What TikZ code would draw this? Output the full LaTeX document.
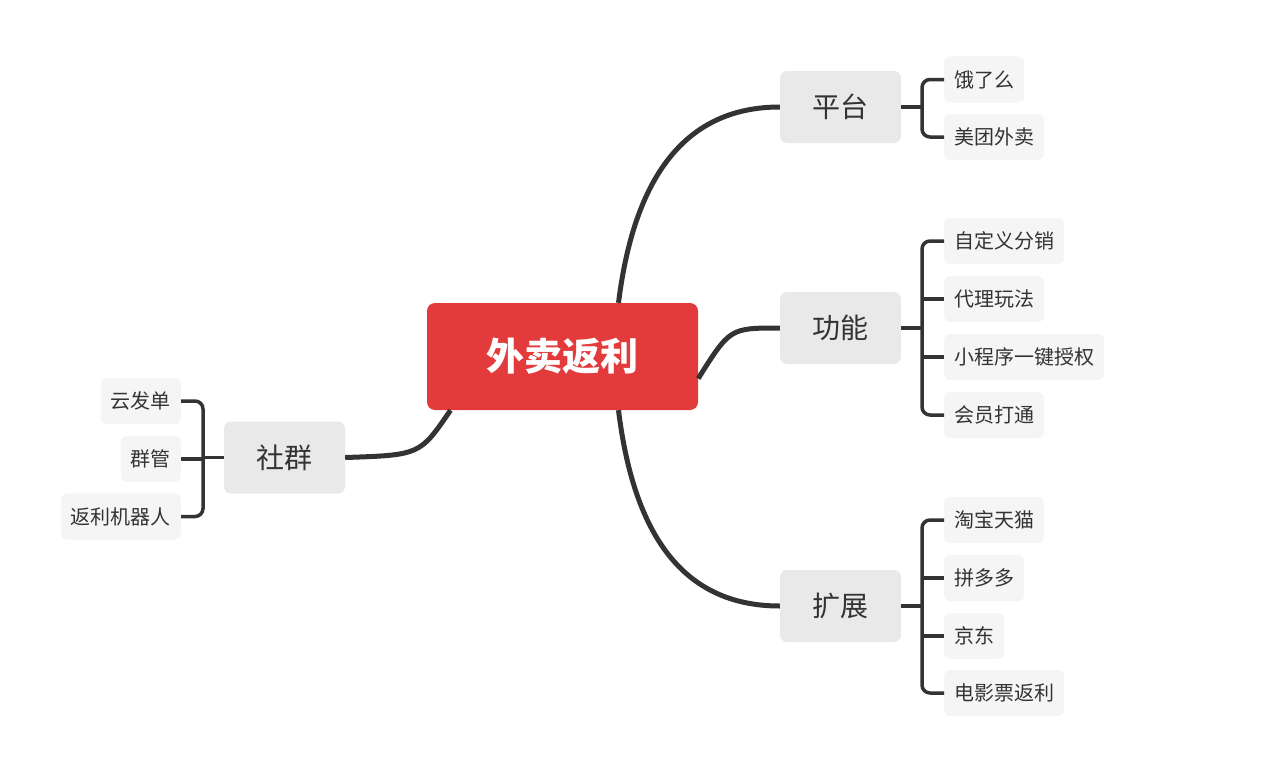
\documentclass[tikz,border=0pt]{standalone}
\usepackage{fontspec}
\setmainfont{Noto Sans CJK SC}
\definecolor{mainred}{HTML}{E33B3B}
\definecolor{topicgray}{HTML}{E9E9E9}
\definecolor{leafgray}{HTML}{F5F5F5}
\definecolor{linegray}{HTML}{333333}
\tikzset{
  rootbox/.style={fill=mainred, rounded corners=8pt, text=white, minimum width=271pt, minimum height=107pt, font=\fontsize{38}{44}\selectfont\bfseries},
  topicbox/.style={fill=topicgray, rounded corners=7pt, text=linegray, minimum width=121pt, minimum height=72pt, font=\fontsize{28}{32}\selectfont},
  leafbox/.style={fill=leafgray, rounded corners=6pt, text=linegray, minimum height=46pt, inner xsep=10pt, font=\fontsize{20}{24}\selectfont},
  branch/.style={draw=linegray, line width=5pt},
  bracket/.style={draw=linegray, line width=3.5pt, rounded corners=8pt}
}
\begin{document}
\begin{tikzpicture}[x=1pt,y=-1pt]
  \useasboundingbox (0,0) rectangle (1268,760);
  % root
  \node[rootbox] (root) at (562.5,356.5) {外卖返利};
  % topics
  \node[topicbox] (pingtai) at (840.5,107) {平台};
  \node[topicbox] (gongneng) at (840.5,328) {功能};
  \node[topicbox] (kuozhan) at (840.5,606) {扩展};
  \node[topicbox] (shequn) at (284.5,457.5) {社群};
  % leaves of 平台
  \node[leafbox, anchor=west] (ele) at (944,79.5) {饿了么};
  \node[leafbox, anchor=west] (meituan) at (944,137) {美团外卖};
  % leaves of 功能
  \node[leafbox, anchor=west] (fenxiao) at (944,241) {自定义分销};
  \node[leafbox, anchor=west] (daili) at (944,299) {代理玩法};
  \node[leafbox, anchor=west] (shouquan) at (944,357) {小程序一键授权};
  \node[leafbox, anchor=west] (huiyuan) at (944,415) {会员打通};
  % leaves of 扩展
  \node[leafbox, anchor=west] (taobao) at (944,520) {淘宝天猫};
  \node[leafbox, anchor=west] (pdd) at (944,578) {拼多多};
  \node[leafbox, anchor=west] (jd) at (944,636) {京东};
  \node[leafbox, anchor=west] (dianying) at (944,693) {电影票返利};
  % leaves of 社群
  \node[leafbox, anchor=east] (fadan) at (181,401) {云发单};
  \node[leafbox, anchor=east] (qunguan) at (181,459) {群管};
  \node[leafbox, anchor=east] (jiqiren) at (181,516.5) {返利机器人};

  % branches from root
  \draw[branch] ([xshift=56pt]root.north) .. controls (635,170) and (690,107) .. (pingtai.west);
  \draw[branch] ([yshift=-22pt]root.east) .. controls (730,328) .. (gongneng.west);
  \draw[branch] ([xshift=56pt]root.south) .. controls (635,545) and (690,606) .. (kuozhan.west);
  \draw[branch] ([xshift=-112pt]root.south) .. controls (420,455) .. (shequn.east);

  % brackets
  \draw[bracket] (pingtai.east) -- ++(22,0);
  \draw[bracket] (ele.west) -- ++(-22,0) |- (meituan.west);
  \draw[bracket] (gongneng.east) -- ++(22,0);
  \draw[bracket] (fenxiao.west) -- ++(-22,0) |- (huiyuan.west);
  \draw[bracket] (daili.west) -- ++(-22,0);
  \draw[bracket] (shouquan.west) -- ++(-22,0);
  \draw[bracket] (kuozhan.east) -- ++(22,0);
  \draw[bracket] (taobao.west) -- ++(-22,0) |- (dianying.west);
  \draw[bracket] (pdd.west) -- ++(-22,0);
  \draw[bracket] (jd.west) -- ++(-22,0);
  \draw[bracket] (shequn.west) -- ++(-21,0);
  \draw[bracket] (fadan.east) -- ++(22,0) |- (jiqiren.east);
  \draw[bracket] (qunguan.east) -- ++(22,0);
\end{tikzpicture}
\end{document}
